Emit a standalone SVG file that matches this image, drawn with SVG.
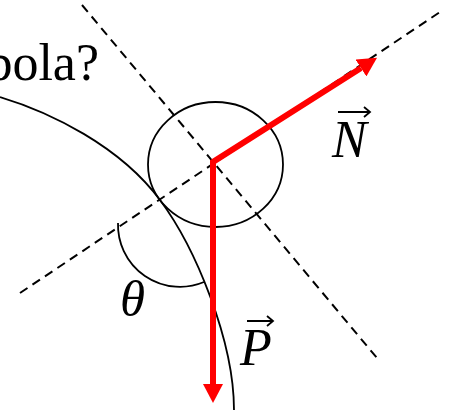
<svg xmlns="http://www.w3.org/2000/svg" width="462" height="410" viewBox="0 0 462 410">
<style>
.dash{fill:none;stroke:#000;stroke-width:2;stroke-dasharray:9 6}
.thin{fill:none;stroke:#000;stroke-width:1.8}
.vec{fill:none;stroke:#ff0000;stroke-width:6;stroke-linejoin:miter}
.lbl{font-family:"Liberation Serif","Times New Roman",serif;fill:#000}
.it{font-style:italic}
</style>
<defs>
<marker id="ah" markerUnits="userSpaceOnUse" viewBox="0 0 19 20" markerWidth="19" markerHeight="20" refX="0" refY="10" orient="auto-start-reverse">
<path d="M0,0 L19,10 L0,20 Z" fill="#ff0000"/>
</marker>
</defs>
<rect width="462" height="410" fill="#fff"/>
<g id="title"><text class="lbl" x="99" y="80" font-size="52" text-anchor="end">bola?</text></g>
<g id="curve"><path class="thin" d="M0,97 C50,112 120,146 160,200 C195,247 234,340 234,410"/></g>
<g id="circle"><ellipse class="thin" cx="215.5" cy="164.5" rx="67.5" ry="62.5"/></g>
<g id="angle"><path class="thin" d="M118,223 A62,62 0 0 0 204,282"/></g>
<g id="connectors">
<path class="dash" d="M82,5 L377,358"/>
<path class="dash" d="M20,293 L443,10"/>
<path class="vec" d="M213,384 L213,162 L361,68" marker-start="url(#ah)" marker-end="url(#ah)"/>
</g>
<g id="labelN">
<text class="lbl it" x="332" y="157" font-size="52">N</text>
<path class="thin" d="M338,112 H370 M364,107 L370,112 L364,117"/>
</g>
<g id="labelP">
<text class="lbl it" x="240" y="365" font-size="52">P</text>
<path class="thin" d="M247,321 H273 M267,316 L273,321 L267,326"/>
</g>
<g id="labelTheta"><text class="lbl it" x="120" y="316" font-size="51">θ</text></g>
</svg>
